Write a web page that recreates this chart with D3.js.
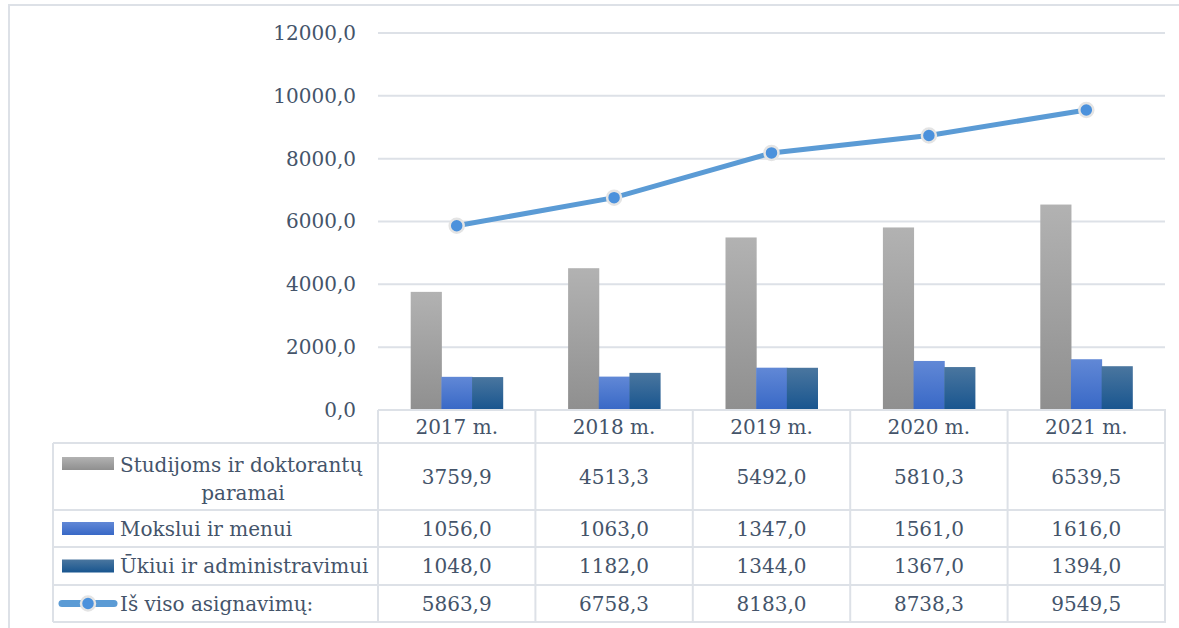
<!DOCTYPE html>
<html>
<head>
<meta charset="utf-8">
<script src="https://cdn.jsdelivr.net/npm/d3@7"></script>
<style>
  html, body { margin: 0; padding: 0; background: #fff; }
  svg { display: block; }
  text { font-family: "DejaVu Serif", "Liberation Serif", serif; fill: #44546a; }
</style>
</head>
<body>
<svg id="chart" width="1179" height="628"></svg>
<script>
// Budget allocations by year (thousand EUR)
const years = ["2017 m.", "2018 m.", "2019 m.", "2020 m.", "2021 m."];
const studijos = [3759.9, 4513.3, 5492.0, 5810.3, 6539.5];
const mokslas = [1056.0, 1063.0, 1347.0, 1561.0, 1616.0];
const ukis = [1048.0, 1182.0, 1344.0, 1367.0, 1394.0];
const isViso = [5863.9, 6758.3, 8183.0, 8738.3, 9549.5];
const seriesNames = ["Studijoms ir doktorantų paramai", "Mokslui ir menui", "Ūkiui ir administravimui", "Iš viso asignavimų:"];
const yTicks = [0, 2000, 4000, 6000, 8000, 10000, 12000];

const svg = d3.select("#chart");
const gridColor = "#dde1e7";
const locale = d3.formatLocale({ decimal: ",", thousands: "", grouping: [3], currency: ["", ""] });
const fmt = locale.format(".1f");

// outer frame
svg.append("rect").attr("x", 9).attr("y", 5).attr("width", 1220).attr("height", 700)
  .attr("fill", "none").attr("stroke", gridColor).attr("stroke-width", 2);

// gradients for bars
const defs = svg.append("defs");
const grads = [
  { id: "gGray", top: "#b2b2b2", bottom: "#8f8f8f" },
  { id: "gBlue", top: "#6188d6", bottom: "#3868c6" },
  { id: "gDark", top: "#4a769f", bottom: "#18558f" }
];
grads.forEach(g => {
  const lg = defs.append("linearGradient").attr("id", g.id).attr("x1", 0).attr("y1", 0).attr("x2", 0).attr("y2", 1);
  lg.append("stop").attr("offset", "0%").attr("stop-color", g.top);
  lg.append("stop").attr("offset", "100%").attr("stop-color", g.bottom);
});

const x = d3.scaleBand().domain(years).range([378, 1165]).padding(0);
const y = d3.scaleLinear().domain([0, 12000]).range([410, 33]);

// gridlines
svg.append("g").selectAll("line").data(yTicks.slice(1)).join("line")
  .attr("x1", 378).attr("x2", 1165)
  .attr("y1", d => y(d)).attr("y2", d => y(d))
  .attr("stroke", gridColor).attr("stroke-width", 2);

// y axis labels
const yAxis = d3.axisLeft(y).tickValues(yTicks).tickFormat(fmt).tickSize(0).tickPadding(22);
const gy = svg.append("g").attr("transform", "translate(378,0)").call(yAxis);
gy.select(".domain").remove();
gy.selectAll("text").attr("font-size", 20).attr("fill", "#44546a")
  .attr("font-family", "'DejaVu Serif', serif");

// bars
const barSeries = [
  { vals: studijos, fill: "url(#gGray)" },
  { vals: mokslas, fill: "url(#gBlue)" },
  { vals: ukis, fill: "url(#gDark)" }
];
const inner = d3.scaleBand().domain([0, 1, 2]).range([-46, 46]).padding(0);
barSeries.forEach((s, si) => {
  svg.append("g").selectAll("rect").data(years).join("rect")
    .attr("x", d => x(d) + x.bandwidth() / 2 + inner(si))
    .attr("width", inner.bandwidth() + 0.5)
    .attr("y", (d, i) => y(s.vals[i]))
    .attr("height", (d, i) => y(0) - y(s.vals[i]))
    .attr("fill", s.fill);
});

// total line
const cx = d => x(d) + x.bandwidth() / 2;
const line = d3.line().x((d, i) => cx(years[i])).y(d => y(d));
svg.append("path").datum(isViso).attr("d", line)
  .attr("fill", "none").attr("stroke", "#5b9bd5").attr("stroke-width", 5).attr("stroke-linecap", "round");
svg.append("g").selectAll("circle").data(isViso).join("circle")
  .attr("cx", (d, i) => cx(years[i])).attr("cy", d => y(d)).attr("r", 7)
  .attr("fill", "#4b91dc").attr("stroke", "#e4e4e4").attr("stroke-width", 2.5);

// data table
const rowEdges = [410, 443, 510, 547, 585, 622];
const tableLeft = 53;
const tg = svg.append("g");
// horizontal lines
rowEdges.forEach((ry, i) => {
  tg.append("line").attr("x1", i === 0 ? 378 : tableLeft).attr("x2", 1166)
    .attr("y1", ry).attr("y2", ry).attr("stroke", gridColor).attr("stroke-width", 2);
});
// vertical lines
const colEdges = years.map(d => x(d)).concat([x.range()[1]]);
colEdges.forEach(cxv => {
  tg.append("line").attr("x1", cxv).attr("x2", cxv).attr("y1", rowEdges[0]).attr("y2", rowEdges[5])
    .attr("stroke", gridColor).attr("stroke-width", 2);
});
tg.append("line").attr("x1", tableLeft).attr("x2", tableLeft).attr("y1", rowEdges[1]).attr("y2", rowEdges[5])
  .attr("stroke", gridColor).attr("stroke-width", 2);

// header row
tg.selectAll("text.hdr").data(years).join("text").attr("class", "hdr")
  .attr("x", d => cx(d)).attr("y", (rowEdges[0] + rowEdges[1]) / 2 + 7)
  .attr("text-anchor", "middle").attr("font-size", 20).text(d => d);

// value rows
const tableRows = [studijos, mokslas, ukis, isViso];
tableRows.forEach((vals, ri) => {
  const my = (rowEdges[ri + 1] + rowEdges[ri + 2]) / 2 + 7;
  tg.append("g").selectAll("text").data(vals).join("text")
    .attr("x", (d, i) => cx(years[i])).attr("y", my)
    .attr("text-anchor", "middle").attr("font-size", 20).text(d => fmt(d));
});

// legend cells
const swatchX = 62, swatchW = 52, textX = 120;
const legendFills = ["url(#gGray)", "url(#gBlue)", "url(#gDark)"];
// row 1 (two lines)
tg.append("rect").attr("x", swatchX).attr("y", 457).attr("width", swatchW).attr("height", 13).attr("fill", legendFills[0]);
tg.append("text").attr("x", textX).attr("y", 472).attr("font-size", 20).text("Studijoms ir doktorantų");
tg.append("text").attr("x", 243).attr("y", 500).attr("text-anchor", "middle").attr("font-size", 20).text("paramai");
// rows 2 & 3
[1, 2].forEach(k => {
  const my = (rowEdges[k + 1] + rowEdges[k + 2]) / 2;
  tg.append("rect").attr("x", swatchX).attr("y", my - 6.5).attr("width", swatchW).attr("height", 13).attr("fill", legendFills[k]);
  tg.append("text").attr("x", textX).attr("y", my + 7).attr("font-size", 20).text(seriesNames[k]);
});
// row 4 line swatch
{
  const my = (rowEdges[4] + rowEdges[5]) / 2;
  tg.append("line").attr("x1", 62).attr("x2", 114).attr("y1", my).attr("y2", my)
    .attr("stroke", "#5b9bd5").attr("stroke-width", 7).attr("stroke-linecap", "round");
  tg.append("circle").attr("cx", 88).attr("cy", my).attr("r", 7)
    .attr("fill", "#4b91dc").attr("stroke", "#e4e4e4").attr("stroke-width", 2.5);
  tg.append("text").attr("x", textX).attr("y", my + 7).attr("font-size", 20).text(seriesNames[3]);
}
</script>
</body>
</html>
